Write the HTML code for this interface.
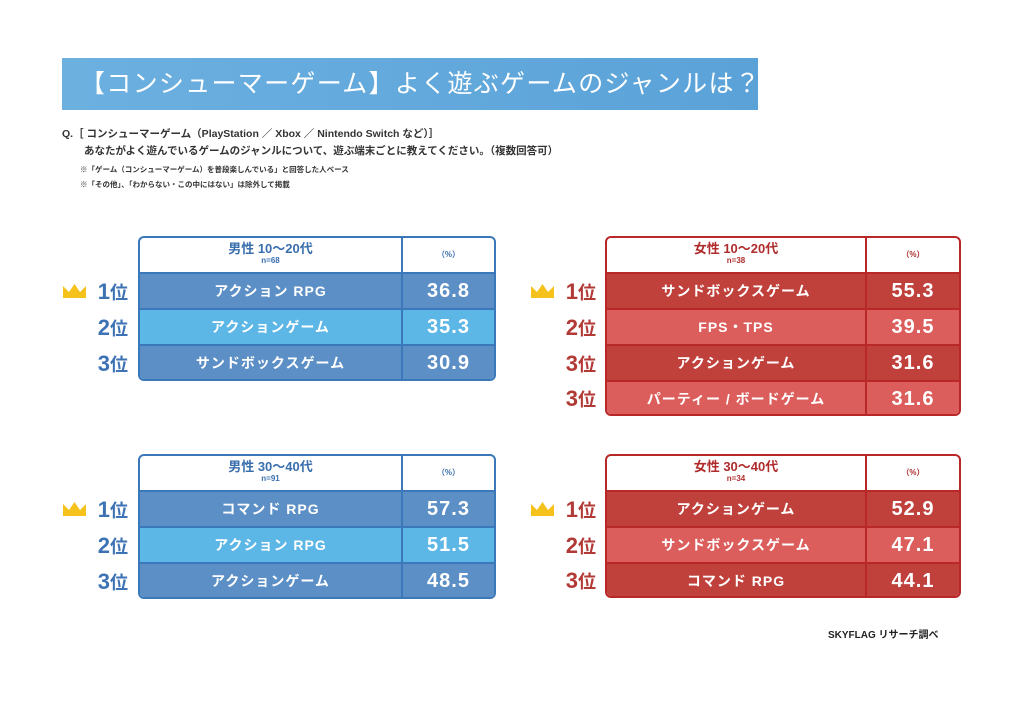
<!DOCTYPE html>
<html><head><meta charset="utf-8"><style>
*{margin:0;padding:0;box-sizing:border-box}
body{width:1024px;height:702px;background:#fff;position:relative;overflow:hidden;font-family:"Liberation Sans","Noto Sans CJK JP",sans-serif}
.a{position:absolute}
.title{left:62px;top:58px;width:696px;height:52px;background:linear-gradient(90deg,#6cb0e0,#5aa2d8);color:#fff;font-size:25px;line-height:52px;padding-left:18px;letter-spacing:1.3px;white-space:nowrap;overflow:hidden}
.q{font-size:10.5px;color:#333;font-weight:bold}
.n{font-size:7.5px;color:#333;font-weight:bold}
.tb{position:absolute;border:2px solid;border-radius:6px;overflow:hidden;background:#fff}
.row{position:absolute;left:0;right:0;height:36px;border-top:2px solid;display:flex;color:#fff;font-weight:bold}
.row .l{flex:none;text-align:center;line-height:34px;font-size:14px;letter-spacing:1px}
.row .r{flex:1;text-align:center;line-height:34px;font-size:20px;border-left:2px solid;letter-spacing:1px}
.hd{position:absolute;left:0;right:0;top:0;height:34px;display:flex;font-weight:bold}
.hd .l{text-align:center;font-size:13px;line-height:15px;padding-top:3px}
.hd .l small{display:block;font-size:8px;line-height:9px}
.hd .r{flex:1;text-align:center;font-size:8px;line-height:34px;border-left:2px solid}
.blue{border-color:#3a78b9}.blue .row,.blue .r{border-color:#3a78b9}
.red{border-color:#b82828}.red .row,.red .r{border-color:#b82828}
.blue .hd{color:#3a6fae}.red .hd{color:#b02c2c}
.bd{background:#5b8fc5}.bl{background:#5cb6e6}.rd{background:#c0403c}.rl{background:#dc5e5c}
.rk{position:absolute;font-size:18px;font-weight:bold;width:40px;text-align:right}
.rk.b{color:#3d73b4}.rk.r{color:#b23a36}
.rk span{font-size:22px}
</style></head><body>
<div class="a title">【コンシューマーゲーム】よく遊ぶゲームのジャンルは？</div>
<div class="a q" style="left:62px;top:126px">Q.［ コンシューマーゲーム（PlayStation ／ Xbox ／ Nintendo Switch など）］</div>
<div class="a q" style="left:84px;top:143px">あなたがよく遊んでいるゲームのジャンルについて、遊ぶ端末ごとに教えてください。（複数回答可）</div>
<div class="a n" style="left:80px;top:164px">※「ゲーム（コンシューマーゲーム）を普段楽しんでいる」と回答した人ベース</div>
<div class="a n" style="left:80px;top:179px">※「その他」、「わからない・この中にはない」は除外して掲載</div>

<svg class="a" style="left:0;top:0" width="1024" height="702">
<g fill="#f5c21b">
<path d="M63 298 L63 286 L69 292 L74.5 284 L80 292 L86 286 L86 298 Z"/>
<path d="M531 298 L531 286 L537 292 L542.5 284 L548 292 L554 286 L554 298 Z"/>
<path d="M63 516 L63 504 L69 510 L74.5 502 L80 510 L86 504 L86 516 Z"/>
<path d="M531 516 L531 504 L537 510 L542.5 502 L548 510 L554 504 L554 516 Z"/>
</g></svg>

<div class="rk b" style="left:88px;top:279px"><span>1</span>位</div>
<div class="rk b" style="left:88px;top:315px"><span>2</span>位</div>
<div class="rk b" style="left:88px;top:351px"><span>3</span>位</div>
<div class="rk b" style="left:88px;top:497px"><span>1</span>位</div>
<div class="rk b" style="left:88px;top:533px"><span>2</span>位</div>
<div class="rk b" style="left:88px;top:569px"><span>3</span>位</div>
<div class="rk r" style="left:556px;top:279px"><span>1</span>位</div>
<div class="rk r" style="left:556px;top:315px"><span>2</span>位</div>
<div class="rk r" style="left:556px;top:351px"><span>3</span>位</div>
<div class="rk r" style="left:556px;top:386px"><span>3</span>位</div>
<div class="rk r" style="left:556px;top:497px"><span>1</span>位</div>
<div class="rk r" style="left:556px;top:533px"><span>2</span>位</div>
<div class="rk r" style="left:556px;top:568px"><span>3</span>位</div>

<div class="tb blue" style="left:138px;top:236px;width:358px;height:145px">
<div class="hd"><div class="l" style="width:261px">男性 10～20代<small>n=68</small></div><div class="r">（%）</div></div>
<div class="row bd" style="top:34px"><div class="l" style="width:261px">アクション RPG</div><div class="r">36.8</div></div>
<div class="row bl" style="top:70px"><div class="l" style="width:261px">アクションゲーム</div><div class="r">35.3</div></div>
<div class="row bd" style="top:106px"><div class="l" style="width:261px">サンドボックスゲーム</div><div class="r">30.9</div></div>
</div>

<div class="tb blue" style="left:138px;top:454px;width:358px;height:145px">
<div class="hd"><div class="l" style="width:261px">男性 30～40代<small>n=91</small></div><div class="r">（%）</div></div>
<div class="row bd" style="top:34px"><div class="l" style="width:261px">コマンド RPG</div><div class="r">57.3</div></div>
<div class="row bl" style="top:70px"><div class="l" style="width:261px">アクション RPG</div><div class="r">51.5</div></div>
<div class="row bd" style="top:106px"><div class="l" style="width:261px">アクションゲーム</div><div class="r">48.5</div></div>
</div>

<div class="tb red" style="left:605px;top:236px;width:356px;height:180px">
<div class="hd"><div class="l" style="width:258px">女性 10～20代<small>n=38</small></div><div class="r">（%）</div></div>
<div class="row rd" style="top:34px"><div class="l" style="width:258px">サンドボックスゲーム</div><div class="r">55.3</div></div>
<div class="row rl" style="top:70px"><div class="l" style="width:258px">FPS・TPS</div><div class="r">39.5</div></div>
<div class="row rd" style="top:106px"><div class="l" style="width:258px">アクションゲーム</div><div class="r">31.6</div></div>
<div class="row rl" style="top:142px"><div class="l" style="width:258px">パーティー / ボードゲーム</div><div class="r">31.6</div></div>
</div>

<div class="tb red" style="left:605px;top:454px;width:356px;height:144px">
<div class="hd"><div class="l" style="width:258px">女性 30～40代<small>n=34</small></div><div class="r">（%）</div></div>
<div class="row rd" style="top:34px"><div class="l" style="width:258px">アクションゲーム</div><div class="r">52.9</div></div>
<div class="row rl" style="top:70px"><div class="l" style="width:258px">サンドボックスゲーム</div><div class="r">47.1</div></div>
<div class="row rd" style="top:106px"><div class="l" style="width:258px">コマンド RPG</div><div class="r">44.1</div></div>
</div>

<div class="a" style="left:828px;top:626px;font-size:10px;font-weight:bold;color:#222">SKYFLAG リサーチ調べ</div>
</body></html>
